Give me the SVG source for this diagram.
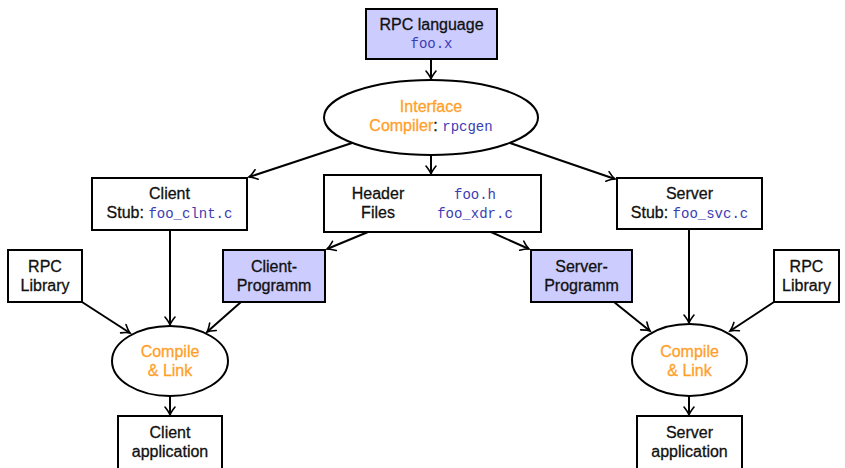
<svg xmlns="http://www.w3.org/2000/svg" width="845" height="468" viewBox="0 0 845 468">
  <style>
    .box { fill: #ffffff; stroke: #000; stroke-width: 2; }
    .prog { fill: #ccccff; stroke: #000; stroke-width: 2; }
    .ell { fill: #ffffff; stroke: #000; stroke-width: 2; }
    .t { font-family: "Liberation Sans", "DejaVu Sans", sans-serif; font-size: 16px; fill: #111; stroke: #111; stroke-width: 0.3; text-anchor: middle; }
    .o { fill: #ff9f2a; stroke: #ff9f2a; }
    .m { font-family: "Liberation Mono", "DejaVu Sans Mono", monospace; font-size: 14px; fill: #3c3cb4; stroke: none; }
    .edge { stroke: #000; stroke-width: 2; fill: none; marker-end: url(#arr); }
  </style>
  <defs>
    <marker id="arr" viewBox="-10 -6 12 12" refX="0" refY="0" markerWidth="12" markerHeight="12" markerUnits="userSpaceOnUse" orient="auto">
      <path d="M -8 -5 Q -3 -1 0 0 Q -3 1 -8 5" fill="none" stroke="#000" stroke-width="1.6" stroke-linecap="round"/>
    </marker>
  </defs>

  <g id="connectors">
    <line class="edge" x1="431" y1="59" x2="431" y2="79"/>
    <line class="edge" x1="352" y1="143" x2="249" y2="177"/>
    <line class="edge" x1="431" y1="155" x2="431" y2="174"/>
    <line class="edge" x1="510" y1="143" x2="615" y2="179"/>
    <line class="edge" x1="368" y1="232" x2="327" y2="249"/>
    <line class="edge" x1="491" y1="232" x2="529" y2="249"/>
    <line class="edge" x1="170" y1="230" x2="170" y2="325"/>
    <line class="edge" x1="82" y1="302" x2="130" y2="333"/>
    <line class="edge" x1="241" y1="302" x2="207" y2="332"/>
    <line class="edge" x1="170" y1="396" x2="170" y2="415"/>
    <line class="edge" x1="689" y1="229" x2="689" y2="323"/>
    <line class="edge" x1="614" y1="302" x2="650" y2="331"/>
    <line class="edge" x1="774" y1="302" x2="730" y2="331"/>
    <line class="edge" x1="689" y1="396" x2="689" y2="415"/>
  </g>

  <g id="rpc-language">
    <rect class="prog" x="366" y="9" width="131" height="50"/>
    <text class="t" x="431.5" y="30">RPC language</text>
    <text class="m" x="431.5" y="48" text-anchor="middle">foo.x</text>
  </g>

  <g id="interface-compiler">
    <ellipse class="ell" cx="431" cy="117.5" rx="107" ry="37.5"/>
    <text class="t o" x="431" y="112">Interface</text>
    <text class="t" x="431" y="131"><tspan class="o">Compiler</tspan>: <tspan class="m">rpcgen</tspan></text>
  </g>

  <g id="client-stub">
    <rect class="box" x="92" y="178" width="155" height="52"/>
    <text class="t" x="169.5" y="199">Client</text>
    <text class="t" x="169.5" y="218">Stub: <tspan class="m">foo_clnt.c</tspan></text>
  </g>

  <g id="header-files">
    <rect class="box" x="324" y="175" width="217" height="57"/>
    <text class="t" x="378" y="199">Header</text>
    <text class="t" x="378" y="218">Files</text>
    <text class="m" x="475" y="199" text-anchor="middle">foo.h</text>
    <text class="m" x="475" y="218" text-anchor="middle">foo_xdr.c</text>
  </g>

  <g id="server-stub">
    <rect class="box" x="617" y="178" width="145" height="51"/>
    <text class="t" x="689.5" y="199">Server</text>
    <text class="t" x="689.5" y="218">Stub: <tspan class="m">foo_svc.c</tspan></text>
  </g>

  <g id="client-programm">
    <rect class="prog" x="223" y="250" width="102" height="52"/>
    <text class="t" x="274" y="272">Client-</text>
    <text class="t" x="274" y="291">Programm</text>
  </g>

  <g id="server-programm">
    <rect class="prog" x="531" y="250" width="101" height="52"/>
    <text class="t" x="581.5" y="272">Server-</text>
    <text class="t" x="581.5" y="291">Programm</text>
  </g>

  <g id="rpc-library-client">
    <rect class="box" x="8" y="250" width="74" height="52"/>
    <text class="t" x="45" y="272">RPC</text>
    <text class="t" x="45" y="291">Library</text>
  </g>

  <g id="rpc-library-server">
    <rect class="box" x="774" y="250" width="65" height="52"/>
    <text class="t" x="806.5" y="272">RPC</text>
    <text class="t" x="806.5" y="291">Library</text>
  </g>

  <g id="compile-link-client">
    <ellipse class="ell" cx="170" cy="361" rx="58" ry="35"/>
    <text class="t o" x="170" y="357">Compile</text>
    <text class="t o" x="170" y="376">&amp; Link</text>
  </g>

  <g id="compile-link-server">
    <ellipse class="ell" cx="689.5" cy="360" rx="57.5" ry="36"/>
    <text class="t o" x="689.5" y="357">Compile</text>
    <text class="t o" x="689.5" y="376">&amp; Link</text>
  </g>

  <g id="client-application">
    <rect class="box" x="118" y="416" width="104" height="56"/>
    <text class="t" x="170" y="438">Client</text>
    <text class="t" x="170" y="457">application</text>
  </g>

  <g id="server-application">
    <rect class="box" x="637" y="416" width="105" height="56"/>
    <text class="t" x="689.5" y="438">Server</text>
    <text class="t" x="689.5" y="457">application</text>
  </g>
</svg>
